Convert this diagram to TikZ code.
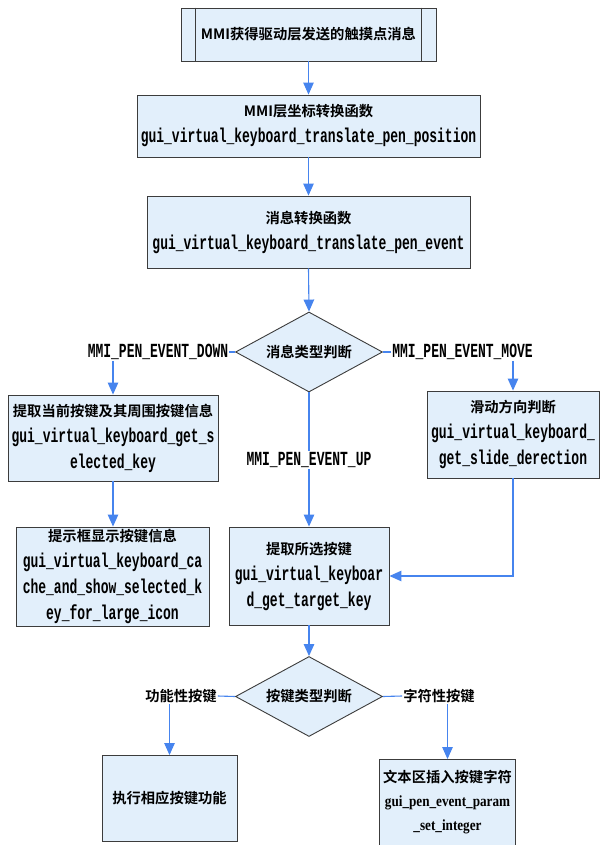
\documentclass[tikz,border=0pt]{standalone}
\usepackage{fontspec}
\setmainfont{Noto Sans CJK SC}[BoldFont={* Bold}]
\newfontfamily\codefont{Liberation Mono}[FakeStretch=0.65]
\newfontfamily\serifbfont{Liberation Serif}[FakeStretch=0.85]
\usetikzlibrary{shapes.geometric,arrows.meta}
\definecolor{boxfill}{HTML}{E2EFFB}
\definecolor{boxline}{HTML}{3C3C3C}
\definecolor{arrblue}{HTML}{4684EE}
\newcommand\cnf{\fontsize{14.3}{26}\selectfont\bfseries}
\newcommand\cdf{\fontsize{20}{26}\selectfont\codefont\bfseries}
\newcommand\sbf{\fontsize{15.5}{24}\selectfont\serifbfont\bfseries}
\tikzset{
  box/.style={draw=boxline, fill=boxfill, line width=0.9pt, align=center, inner sep=0pt, font=\cnf},
  dia/.style={draw=boxline, fill=boxfill, line width=0.9pt, shape=diamond, aspect=1.84, inner sep=0pt, minimum width=147pt, minimum height=80pt, font=\cnf},
  lbl/.style={fill=white, inner sep=1pt},
  ln/.style={draw=arrblue, line width=1.1pt},
  arr/.style={ln, -{Triangle[length=12pt,width=10.5pt]}},
}
\begin{document}
\begin{tikzpicture}[x=1pt,y=-1pt]
\useasboundingbox[fill=white] (0,0) rectangle (600,845);
% boxes
\node[box, minimum width=255pt, minimum height=53pt] (b1) at (308.5,34.5) {MMI获得驱动层发送的触摸点消息};
\draw[boxline, line width=0.9pt] ([xshift=15pt]b1.north west) -- ([xshift=15pt]b1.south west);
\draw[boxline, line width=0.9pt] ([xshift=-15pt]b1.north east) -- ([xshift=-15pt]b1.south east);
\node[box, minimum width=343pt, minimum height=62pt] (b2) at (308.5,126) {MMI层坐标转换函数\\{\cdf gui\_virtual\_keyboard\_translate\_pen\_position}};
\node[box, minimum width=323pt, minimum height=72pt] (b3) at (308.5,232) {消息转换函数\\{\cdf gui\_virtual\_keyboard\_translate\_pen\_event}};
\node[dia] (d1) at (309,352) {消息类型判断};
\node[box, minimum width=210pt, minimum height=86pt] (b4) at (113,438) {提取当前按键及其周围按键信息\\{\cdf gui\_virtual\_keyboard\_get\_s}\\{\cdf elected\_key}};
\node[box, minimum width=193pt, minimum height=99pt] (b5) at (112.5,576.5) {提示框显示按键信息\\{\cdf gui\_virtual\_keyboard\_ca}\\{\cdf che\_and\_show\_selected\_k}\\{\cdf ey\_for\_large\_icon}};
\node[box, minimum width=172pt, minimum height=87pt] (b6) at (513,434.5) {滑动方向判断\\{\cdf gui\_virtual\_keyboard\_}\\{\cdf get\_slide\_derection}};
\node[box, minimum width=160pt, minimum height=98pt] (b7) at (309,576) {提取所选按键\\{\cdf gui\_virtual\_keyboar}\\{\cdf d\_get\_target\_key}};
\node[dia] (d2) at (309,696.5) {按键类型判断};
\node[box, minimum width=135pt, minimum height=86pt] (b8) at (169.5,798.5) {执行相应按键功能};
\node[box, minimum width=136pt, minimum height=86pt, font=\fontsize{14.3}{24}\selectfont\bfseries] (b9) at (447.5,802.5) {文本区插入按键字符\\{\sbf gui\_pen\_event\_param}\\{\sbf \_set\_integer}};
% labels
\node[lbl, font=\cdf] (lDown) at (158,352) {MMI\_PEN\_EVENT\_DOWN};
\node[lbl, font=\cdf] (lMove) at (462.5,352) {MMI\_PEN\_EVENT\_MOVE};
\node[lbl, font=\cnf] (lFunc) at (181,696) {功能性按键};
\node[lbl, font=\cnf] (lChar) at (439,696) {字符性按键};
% connectors
\draw[arr] (b1.south) -- (b2.north);
\draw[arr] (b2.south) -- (b3.north);
\draw[arr] (b3.south) -- (d1.north);
\draw[ln] (d1.west) -- (lDown.east);
\draw[arr] (lDown.south -| b4.north) -- (b4.north);
\draw[ln] (d1.east) -- (lMove.west);
\draw[arr] (lMove.south -| b6.north) -- (b6.north);
\draw[arr] (b4.south) -- (b4.south |- b5.north);
\draw[arr] (d1.south) -- (b7.north);
\node[lbl, font=\cdf] (lUp) at (309,460) {MMI\_PEN\_EVENT\_UP};
\draw[arr] (b6.south) |- (b7.east);
\draw[arr] (b7.south) -- (d2.north);
\draw[ln] (d2.west) -- (lFunc.east);
\draw[arr] (lFunc.south -| b8.north) -- (b8.north);
\draw[ln] (d2.east) -- (lChar.west);
\draw[arr] (lChar.south -| b9.north) -- (b9.north);
\end{tikzpicture}
\end{document}
